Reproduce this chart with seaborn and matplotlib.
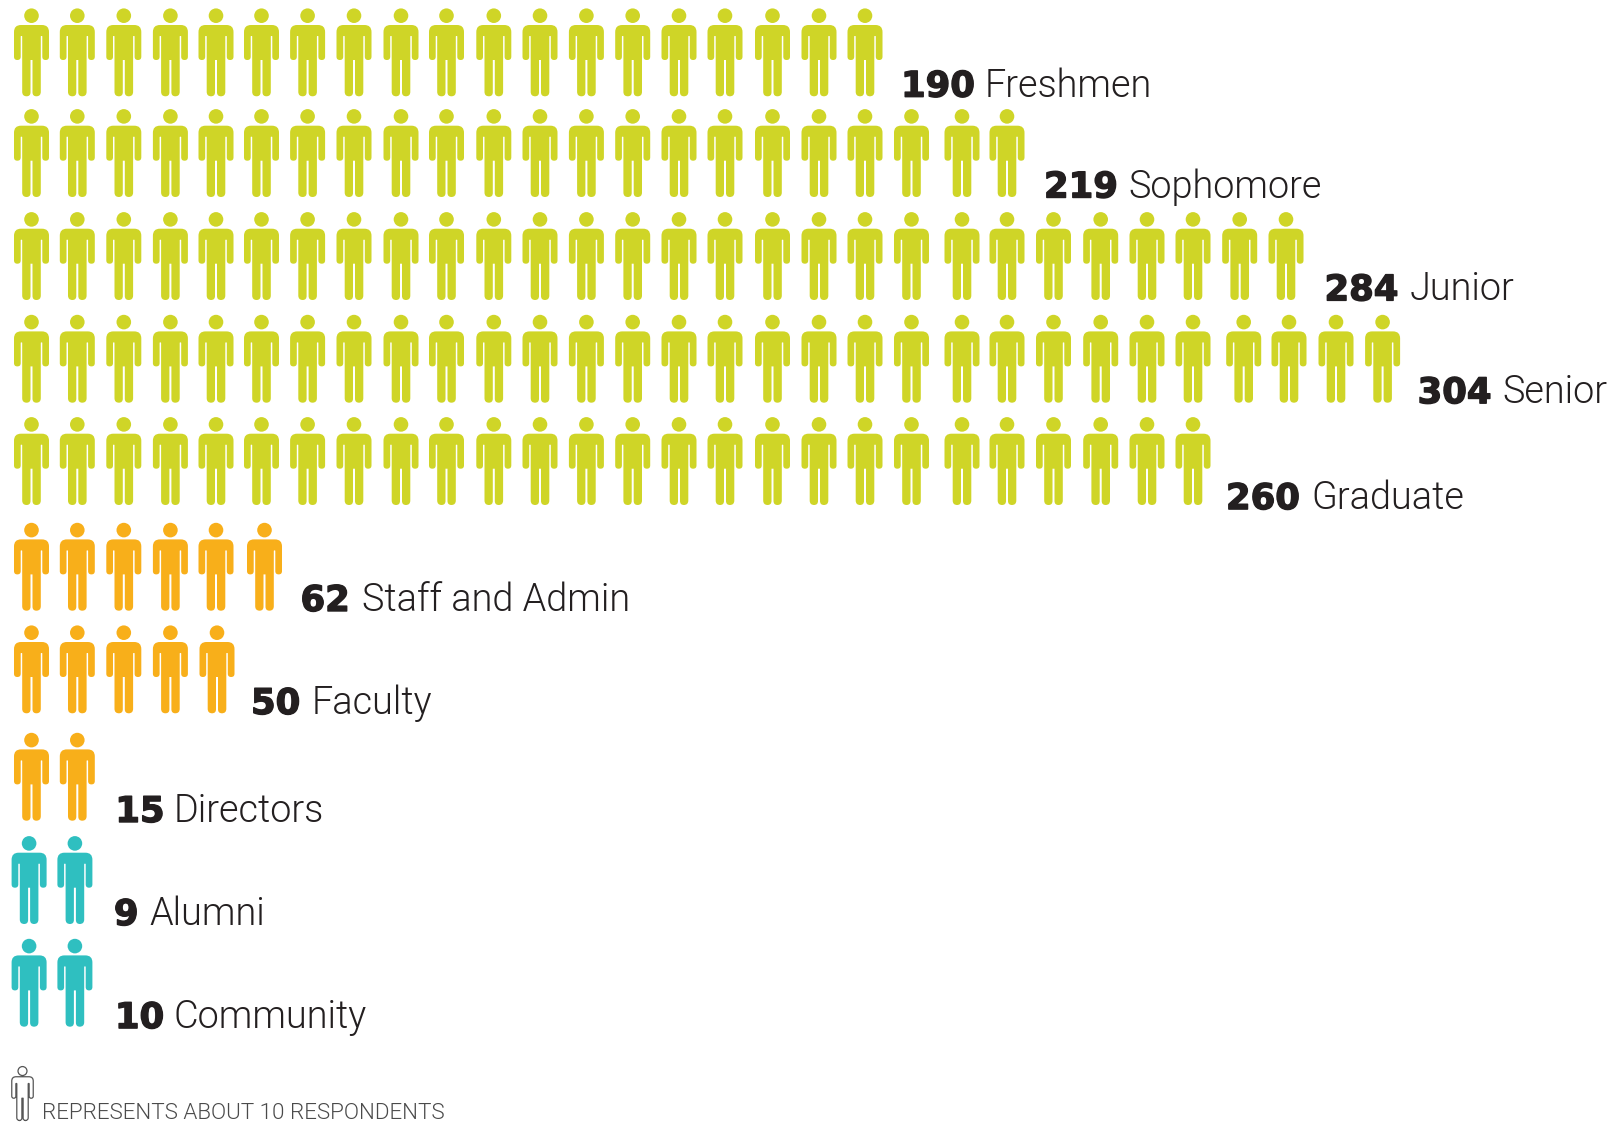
import numpy as np
import pandas as pd
import matplotlib
matplotlib.use("Agg")
import matplotlib.pyplot as plt
import matplotlib.patheffects as pe
from matplotlib.path import Path
import seaborn as sns

# Survey respondents by group
GROUP_NAMES = ["Freshmen", "Sophomore", "Junior", "Senior", "Graduate",
               "Staff and Admin", "Faculty", "Directors", "Alumni", "Community"]
GROUP_VALUES = [190, 219, 284, 304, 260, 62, 50, 15, 9, 10]
ICON_COUNTS = [19, 22, 28, 30, 26, 6, 5, 2, 2, 2]
GROUP_KIND = ["student"] * 5 + ["employee"] * 3 + ["outside"] * 2
KEY_TEXT = "REPRESENTS ABOUT 10 RESPONDENTS"

PALETTE = {"student": "#CFD527", "employee": "#F8AF1A", "outside": "#2FBFC0"}
TEXT_DARK = "#231F20"
KEY_GREY = "#4A4A4A"

# Layout, in pixels of the 1613x1126 canvas
W, H, DPI = 1613, 1126, 100
COL_PITCH, ROW_PITCH = 46.7, 103.4
X0, Y0 = 31.5, 52.3
COL_NUDGE = [0, -0.9, -1.1, -1.2, -2.3, -3.5, -4.1, -4.4, -4.1, -5.3,
             -4.7, -5.2, -5.5, -5.9, -6.3, -7.0, -6.2, -6.4, -7.1, -7.3,
             -3.5, -5.2, -5.4, -4.9, -5.3, -6.0, -2.0, -3.4, -3.1, -3.2]
ROW_NUDGE = [0, -2.7, -3.1, -3.8, -4.9, -2.6, -3.4, 0.6, 0.5, -0.2]
ROW_SHIFT = [0, 0, 0, 0, 0, 0, 0, 0, -2.4, -2.4]
ICON_SHIFT = {(2, 26): -4, (2, 27): -3, (5, 5): 3, (6, 4): 1}
LABEL_GAP = [36, 37, 38.5, 35, 33, 36, 34, 38, 39, 40]
LABEL_RAISE = [0.6, 0.5, 0.6, 0.5, -3.1, 0.7, 0.3, -0.3, 0.0, -0.4]
NAME_NUDGE = [-1, 0, 0, 0, 0, 1, 0, -2, 0, -2]


def rounded_outline(points):
    """Closed outline through (x, y, corner radius) points, with quadratic corners."""
    verts, codes = [], []
    n = len(points)
    for i, (x, y, r) in enumerate(points):
        p = np.array([x, y], float)
        prev = np.array(points[i - 1][:2], float)
        nxt = np.array(points[(i + 1) % n][:2], float)
        a = p + (prev - p) / np.linalg.norm(prev - p) * r
        b = p + (nxt - p) / np.linalg.norm(nxt - p) * r
        verts.append(a)
        codes.append(Path.MOVETO if i == 0 else Path.LINETO)
        if r > 0:
            verts += [p, b]
            codes += [Path.CURVE3, Path.CURVE3]
    verts.append(verts[0])
    codes.append(Path.CLOSEPOLY)
    return Path(np.array(verts), codes)


def person_marker():
    right = [(17.5, 27.3, 7.0), (17.5, -7.7, 3.3), (10.8, -7.7, 3.3),
             (10.8, 16.3, 0.5), (9.3, 16.3, 0.5), (9.3, -44.0, 4.5),
             (1.0, -44.0, 4.0), (1.0, -7.7, 0.0)]
    left = [(-x, y, r) for x, y, r in reversed(right)]
    body = rounded_outline(right + left)
    head = Path.circle((0, 36.6), 7.3)
    return Path.make_compound_path(head, body)


def col_position(r, c):
    return c + (COL_NUDGE[c] + ROW_SHIFT[r] + ICON_SHIFT.get((r, c), 0)) / COL_PITCH


def row_position(r):
    return r + ROW_NUDGE[r] / ROW_PITCH


PERSON = person_marker()
ICON_SIZE = (88 * 72 / DPI) ** 2
KEY_SIZE = (54 * 72 / DPI) ** 2

rows = []
for r, (name, count, kind) in enumerate(zip(GROUP_NAMES, ICON_COUNTS, GROUP_KIND)):
    for c in range(count):
        rows.append({"group": name, "kind": kind,
                     "col": col_position(r, c), "row": row_position(r)})
icons = pd.DataFrame(rows)

sns.set_theme(style="white")
plt.rcParams["font.family"] = ["Roboto", "DejaVu Sans"]

fig = plt.figure(figsize=(W / DPI, H / DPI), dpi=DPI)
ax = fig.add_axes([0, 0, 1, 1])

sns.scatterplot(data=icons, x="col", y="row", hue="kind", palette=PALETTE,
                marker=PERSON, s=ICON_SIZE, linewidth=0, legend=False, ax=ax)

# Outlined figure for the key
key = pd.DataFrame({"col": [-0.193], "row": [10.06]})
sns.scatterplot(data=key, x="col", y="row", marker=PERSON, s=KEY_SIZE,
                facecolor="white", edgecolor="#555555", linewidth=0.9,
                legend=False, ax=ax)

ax.set_xlim(-X0 / COL_PITCH, (W - X0) / COL_PITCH)
ax.set_ylim((H - Y0) / ROW_PITCH, -Y0 / ROW_PITCH)
ax.set_axis_off()

renderer = fig.canvas.get_renderer()
for r, (name, value, count) in enumerate(zip(GROUP_NAMES, GROUP_VALUES, ICON_COUNTS)):
    anchor = (col_position(r, count - 1), row_position(r))
    lift = -45 + LABEL_RAISE[r]
    number = ax.annotate(str(value), xy=anchor, xytext=(LABEL_GAP[r], lift),
                         textcoords="offset pixels", fontsize=25.5,
                         family="DejaVu Sans", fontweight="bold",
                         color=TEXT_DARK, va="baseline", ha="left",
                         path_effects=[pe.withStroke(linewidth=1.0, foreground=TEXT_DARK)])
    width = number.get_window_extent(renderer).width
    ax.annotate(name, xy=anchor,
                xytext=(LABEL_GAP[r] + width + 11 + NAME_NUDGE[r], lift),
                textcoords="offset pixels", fontsize=27.3, fontweight=300,
                color=TEXT_DARK, va="baseline", ha="left")

ax.annotate(KEY_TEXT, xy=(-0.193, 10.06), xytext=(20, -26), textcoords="offset pixels",
            fontsize=16.1, fontweight=300, color=KEY_GREY, va="baseline", ha="left")

fig.savefig("out.png", dpi=DPI, facecolor="white")
